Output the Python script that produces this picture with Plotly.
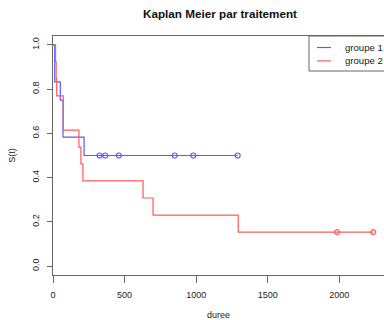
import plotly.graph_objects as go

# Step points (time, survival)
g1_time = [0, 12, 51, 70, 217, 1290]
g1_surv = [1.0, 0.833, 0.75, 0.583, 0.5, 0.5]
g1_cens_time = [325, 365, 460, 850, 980, 1290]
g1_cens_surv = [0.5, 0.5, 0.5, 0.5, 0.5, 0.5]

g2_time = [0, 18, 22, 26, 72, 181, 195, 209, 629, 699, 1294, 2237]
g2_surv = [1.0, 0.923, 0.846, 0.769, 0.615, 0.538, 0.462, 0.385, 0.308, 0.231, 0.154, 0.154]
g2_cens_time = [1984, 2237]
g2_cens_surv = [0.154, 0.154]

x_ticks = [0, 500, 1000, 1500, 2000]
y_ticks = [0.0, 0.2, 0.4, 0.6, 0.8, 1.0]
y_tick_text = ["0.0", "0.2", "0.4", "0.6", "0.8", "1.0"]

blue = "#5a5aff"
red = "#ff5a5a"

fig = go.Figure()
fig.add_trace(go.Scatter(x=g1_time, y=g1_surv, mode="lines", line=dict(shape="hv", color=blue, width=1.2),
                         name="groupe 1", showlegend=False, hoverinfo="skip"))
fig.add_trace(go.Scatter(x=g2_time, y=g2_surv, mode="lines", line=dict(shape="hv", color=red, width=1.2),
                         name="groupe 2", showlegend=False, hoverinfo="skip"))
fig.add_trace(go.Scatter(x=g1_cens_time, y=g1_cens_surv, mode="markers",
                         marker=dict(symbol="circle-open", size=5, color=blue, line=dict(width=1.2)),
                         showlegend=False, hoverinfo="skip"))
fig.add_trace(go.Scatter(x=g2_cens_time, y=g2_cens_surv, mode="markers",
                         marker=dict(symbol="circle-open", size=5, color=red, line=dict(width=1.2)),
                         showlegend=False, hoverinfo="skip"))

axis_col = "#666666"
font = "Liberation Sans, Arial, sans-serif"

fig.update_layout(
    width=384, height=320,
    margin=dict(l=53, r=0, t=36, b=45),
    paper_bgcolor="white", plot_bgcolor="white",
    font=dict(family=font, size=9, color="#222222"),
    title=dict(text="<b>Kaplan Meier par traitement</b>", x=220 / 384,
               xanchor="center", y=1 - 13.5 / 320, yanchor="middle",
               font=dict(size=11.7, color="#111111", family=font)),
    xaxis=dict(range=[0, 2312], tickvals=x_ticks, ticks="outside", ticklen=7, tickcolor=axis_col,
               ticklabelstandoff=4,
               showline=True, linecolor=axis_col, linewidth=1, mirror=True, showgrid=False, zeroline=False,
               title=dict(text="duree", standoff=12, font=dict(size=9))),
    yaxis=dict(range=[-0.04, 1.04], tickvals=y_ticks, ticktext=y_tick_text, tickangle=-90,
               ticks="outside", ticklen=5, tickcolor=axis_col, ticklabelstandoff=4,
               showline=True, linecolor=axis_col, linewidth=1, mirror=True, showgrid=False, zeroline=False,
               title=dict(text="S(t)", standoff=14, font=dict(size=9))),
)

# Legend box (top right), drawn manually
x0p = (309 - 53) / 331
fig.add_shape(type="rect", xref="paper", yref="paper", x0=x0p, x1=1.05, y0=1 - (71 - 36) / 239, y1=1.0,
              line=dict(color=axis_col, width=1), fillcolor="white", layer="above")
for i, (name, col) in enumerate([("groupe 1", blue), ("groupe 2", red)]):
    yy = 1 - (47.5 + i * 13.4 - 36) / 239
    fig.add_shape(type="line", xref="paper", yref="paper", x0=(317 - 53) / 331, x1=(331 - 53) / 331,
                  y0=yy, y1=yy, line=dict(color=col, width=1.2), layer="above")
    fig.add_annotation(xref="paper", yref="paper", x=(343 - 53) / 331, y=yy, text=name, showarrow=False,
                       xanchor="left", yanchor="middle", font=dict(size=9.6, color="#222222"))

fig.write_html("out.html")
